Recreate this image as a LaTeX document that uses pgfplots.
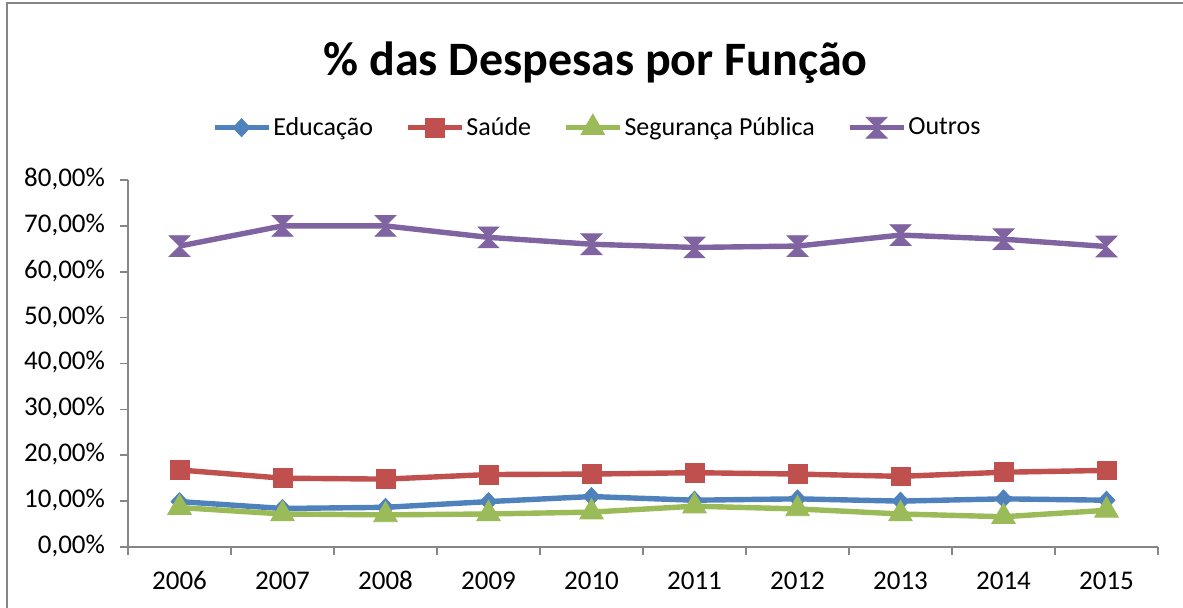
\documentclass[border=0pt]{standalone}
\usepackage{pgfplots}
\pgfplotsset{compat=1.18}
\usepackage{fontspec}
\setmainfont{Carlito}
\definecolor{cEdu}{HTML}{4F81BD}
\definecolor{cSau}{HTML}{C0504D}
\definecolor{cSeg}{HTML}{9BBB59}
\definecolor{cOut}{HTML}{8064A2}
\definecolor{cAx}{HTML}{868686}
\pgfdeclareplotmark{hourglass}{%
 \pgfpathmoveto{\pgfqpoint{-\pgfplotmarksize}{\pgfplotmarksize}}%
 \pgfpathlineto{\pgfqpoint{\pgfplotmarksize}{\pgfplotmarksize}}%
 \pgfpathlineto{\pgfqpoint{-\pgfplotmarksize}{-\pgfplotmarksize}}%
 \pgfpathlineto{\pgfqpoint{\pgfplotmarksize}{-\pgfplotmarksize}}%
 \pgfpathclose
 \pgfusepathqfillstroke}
\begin{document}
\begin{tikzpicture}
\useasboundingbox (0,0) rectangle (591.5pt,303.5pt);
\draw[cAx, line width=1pt] (3.5pt,-5pt) -- (3.5pt,302pt) -- (600pt,302pt);
\node[anchor=base, font=\fontsize{24}{28}\selectfont\bfseries] at (297.75pt,265.5pt) {\% das Despesas por Função};
\begin{axis}[
  scale only axis,
  width=515pt, height=183.5pt,
  at={(64pt,30pt)}, anchor=south west,
  xmin=0.5, xmax=10.5, ymin=0, ymax=80,
  axis lines*=left,
  axis line style={draw=cAx, line width=0.8pt, -},
  tick align=outside,
  xtick={1,...,10},
  xticklabels={2006,2007,2008,2009,2010,2011,2012,2013,2014,2015},
  major x tick style={draw=none},
  minor xtick={0.5,1.5,...,10.5},
  minor tick length=4pt,
  minor x tick style={draw=cAx, line width=0.8pt},
  ytick={0,10,...,80},
  yticklabels={{0,00\%},{10,00\%},{20,00\%},{30,00\%},{40,00\%},{50,00\%},{60,00\%},{70,00\%},{80,00\%}},
  major tick length=4pt,
  y tick style={draw=cAx, line width=0.8pt},
  tick label style={font=\fontsize{13.5}{16}\selectfont},
  typeset ticklabels with strut,
  xticklabel style={yshift=-2.5pt},
  yticklabel style={xshift=-4pt},
  /pgf/number format/assume math mode=true,
  legend columns=4,
  legend style={draw=none, fill=none, at={(0.4555,1.144)}, anchor=center,
    font=\fontsize{13}{15}\selectfont,
    nodes={inner sep=1pt},
    /tikz/every even column/.append style={column sep=15pt}},
  legend image code/.code={\draw[mark repeat=2, mark phase=2, #1] plot coordinates {(0pt,0pt) (13.5pt,0pt) (27pt,0pt)};},
  every axis plot/.append style={line width=2.7pt},
]
\addplot[color=cEdu, mark=diamond*, mark size=4.5pt, mark options={solid, line width=0.4pt, xscale=1.25}] coordinates {
(1,9.9) (2,8.4) (3,8.65) (4,9.9) (5,11.0) (6,10.2) (7,10.5) (8,10.0) (9,10.5) (10,10.2)};
\addlegendentry{Educação}
\addplot[color=cSau, mark=square*, mark size=4.7pt, mark options={solid, line width=0.4pt}] coordinates {
(1,16.8) (2,15.0) (3,14.8) (4,15.8) (5,15.9) (6,16.2) (7,15.9) (8,15.4) (9,16.3) (10,16.7)};
\addlegendentry{Saúde}
\addplot[color=cSeg, mark=triangle*, mark size=6.8pt, mark options={solid, line width=0.4pt}] coordinates {
(1,8.6) (2,7.2) (3,7.0) (4,7.2) (5,7.6) (6,8.9) (7,8.3) (8,7.2) (9,6.6) (10,8.0)};
\addlegendentry{Segurança Pública}
\addplot[color=cOut, mark=hourglass, mark size=5.2pt, mark options={solid, line width=0.4pt}] coordinates {
(1,65.6) (2,70.0) (3,70.0) (4,67.5) (5,66.0) (6,65.3) (7,65.6) (8,68.0) (9,67.1) (10,65.5)};
\addlegendentry{Outros}
\end{axis}
\end{tikzpicture}
\end{document}
